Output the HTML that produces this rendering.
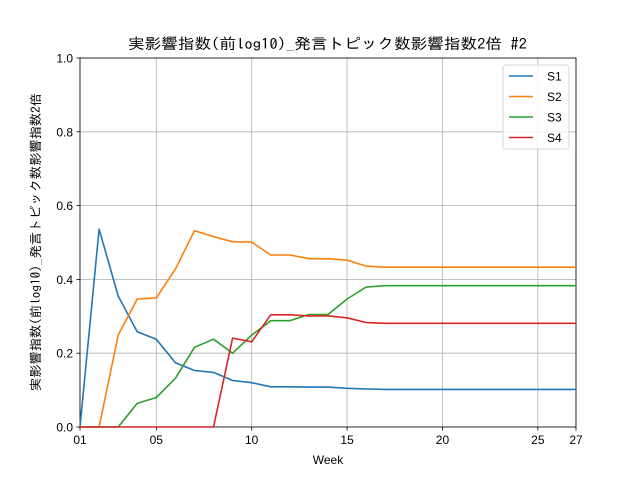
<!DOCTYPE html>
<html><head><meta charset="utf-8"><style>
html,body{margin:0;padding:0;background:#fff;}
svg{display:block;font-family:"Liberation Sans","Noto Sans CJK JP",sans-serif;}
</style></head><body>
<svg id="chart" width="640" height="480" viewBox="0 0 640 480" xmlns="http://www.w3.org/2000/svg">
<rect width="640" height="480" fill="#fff"/>
<text x="128" y="49" font-size="15" fill="#000" textLength="399" lengthAdjust="spacingAndGlyphs" style="font-family:'IPAGothic','Noto Sans CJK JP',sans-serif">実影響指数(前log10)_発言トピック数影響指数2倍 #2</text>
<g id="grid"></g>
<g id="axes"></g>
<g id="series"></g>
<text x="328" y="464" text-anchor="middle" font-size="12" fill="#000">Week</text>
<text transform="translate(40,391) rotate(-90)" font-size="12.5" fill="#000" textLength="298" lengthAdjust="spacingAndGlyphs" style="font-family:'IPAGothic','Noto Sans CJK JP',sans-serif">実影響指数(前log10)_発言トピック数影響指数2倍</text>
<g id="legend"></g>
</svg>
<script>
const weeks = [1,2,3,4,5,6,7,8,9,10,11,12,13,14,15,16,17,18,19,20,21,22,23,24,25,26,27];
const s1 = [0,0.536,0.355,0.258,0.238,0.174,0.153,0.148,0.126,0.120,0.109,0.109,0.108,0.108,0.105,0.103,0.102,0.102,0.102,0.102,0.102,0.102,0.102,0.102,0.102,0.102,0.102];
const s2 = [0,0,0.249,0.347,0.350,0.428,0.532,0.516,0.502,0.501,0.466,0.466,0.456,0.456,0.452,0.436,0.433,0.433,0.433,0.433,0.433,0.433,0.433,0.433,0.433,0.433,0.433];
const s3 = [0,0,0,0.064,0.080,0.132,0.216,0.238,0.200,0.249,0.288,0.288,0.305,0.305,0.347,0.379,0.383,0.383,0.383,0.383,0.383,0.383,0.383,0.383,0.383,0.383,0.383];
const s4 = [0,0,0,0,0,0,0,0,0.241,0.231,0.304,0.304,0.301,0.301,0.296,0.283,0.281,0.281,0.281,0.281,0.281,0.281,0.281,0.281,0.281,0.281,0.281];
const seriesNames = ["S1","S2","S3","S4"];
const xTicks = [1,5,10,15,20,25,27];
const xTickLabels = ["01","05","10","15","20","25","27"];
const yTicks = [0,0.2,0.4,0.6,0.8,1.0];
const yTickLabels = ["0.0","0.2","0.4","0.6","0.8","1.0"];

const L=80,R=576,T=58,B=427;
const colors=["#1f77b4","#ff7f0e","#2ca02c","#d62728"];
const xs=w=>L+(w-1)/(26)*(R-L);
const ys=v=>B-v*(B-T);
const NS="http://www.w3.org/2000/svg";
function mk(tag,attrs,parent){const e=document.createElementNS(NS,tag);for(const k in attrs)e.setAttribute(k,attrs[k]);parent.appendChild(e);return e;}
const grid=document.getElementById('grid'),axes=document.getElementById('axes'),ser=document.getElementById('series'),leg=document.getElementById('legend');
xTicks.forEach((t,i)=>{
  const x=xs(t);
  const g=mk('line',{x1:x,x2:x,y1:T,y2:B,stroke:'#b0b0b0','stroke-width':0.8},grid);
  
  
  mk('line',{x1:x,x2:x,y1:B,y2:B+3.5,stroke:'#000','stroke-width':0.8},axes);
  const tx=mk('text',{x:x,y:B+17,'text-anchor':'middle','font-size':12,fill:'#000'},axes);
  tx.textContent=xTickLabels[i];
  
  
});
yTicks.forEach((t,i)=>{
  const y=ys(t);
  const g=mk('line',{x1:L,x2:R,y1:y,y2:y,stroke:'#b0b0b0','stroke-width':0.8},grid);
  
  
  mk('line',{x1:L-3.5,x2:L,y1:y,y2:y,stroke:'#000','stroke-width':0.8},axes);
  const tx=mk('text',{x:L-7,y:y+4.5,'text-anchor':'end','font-size':12,fill:'#000'},axes);
  tx.textContent=yTickLabels[i];
  
  
});
const frame=mk('rect',{x:L,y:T,width:R-L,height:B-T,fill:'none',stroke:'#000','stroke-width':0.8},axes);


[s1,s2,s3,s4].forEach((arr,si)=>{
  const pts=arr.map((v,i)=>xs(weeks[i]).toFixed(1)+','+ys(v).toFixed(1)).join(' ');
  const p=mk('polyline',{points:pts,fill:'none',stroke:colors[si],'stroke-width':1.6,'stroke-linejoin':'round'},ser);
  
  
});
const box=mk('rect',{x:503,y:65,width:66,height:84,rx:3,fill:'#fff','fill-opacity':0.8,stroke:'#ccc','stroke-width':0.8},leg);


seriesNames.forEach((n,i)=>{
  const y=76+i*20.5;
  const ln=mk('line',{x1:509,x2:533,y1:y,y2:y,stroke:colors[i],'stroke-width':1.6},leg);
  
  
  const tx=mk('text',{x:547,y:y+4.5,'font-size':12,fill:'#000'},leg);
  tx.textContent=n;
  
  
});
</script>
</body></html>
